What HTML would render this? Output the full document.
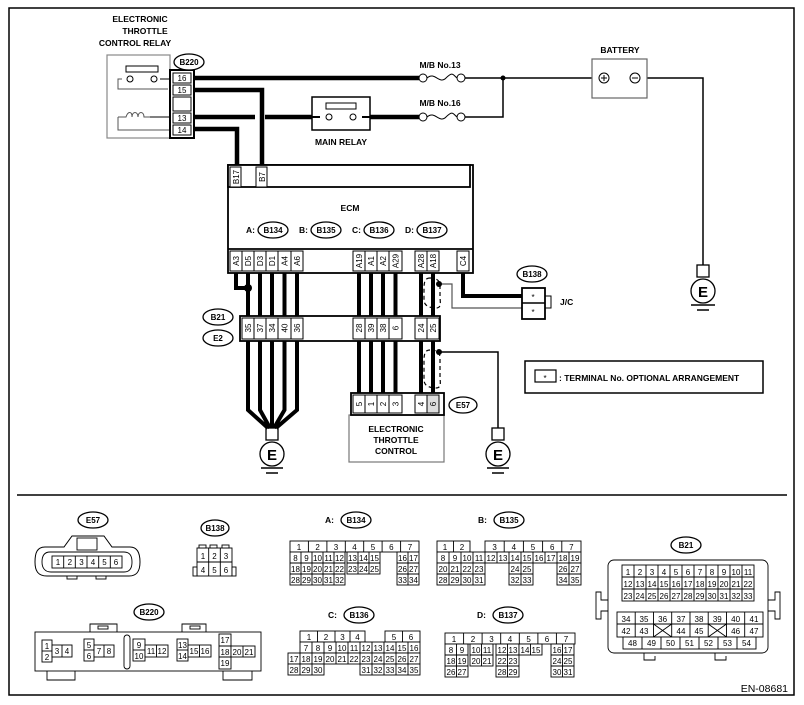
<!DOCTYPE html>
<html><head><meta charset="utf-8"><style>
html,body{margin:0;padding:0;background:#fff}
svg{display:block}
text{font-family:"Liberation Sans",sans-serif;fill:#000}
.b{font-weight:bold;font-size:8.5px}
.t{font-size:8px;text-anchor:middle}
.g{font-size:8px;text-anchor:middle}
</style></head><body>
<svg width="804" height="705" viewBox="0 0 804 705" xmlns="http://www.w3.org/2000/svg">
<rect x="9" y="8" width="785" height="687" fill="none" stroke="#000" stroke-width="1.5"/>
<line x1="17" y1="495" x2="787" y2="495" stroke="#000" stroke-width="1.5"/>

<!-- ETC relay -->
<text class="b" x="140" y="22" text-anchor="middle">ELECTRONIC</text>
<text class="b" x="145" y="34" text-anchor="middle">THROTTLE</text>
<text class="b" x="135" y="46" text-anchor="middle">CONTROL RELAY</text>
<rect x="107" y="55" width="63" height="83" fill="none" stroke="#888" stroke-width="1.2"/>
<rect x="126" y="66" width="32" height="6" fill="none" stroke="#000"/>
<path d="M168 89H134M122 79h-4v10h50" fill="none" stroke="#555"/>
<circle cx="130" cy="79" r="3" fill="#fff" stroke="#000"/><circle cx="154" cy="79" r="3" fill="#fff" stroke="#000"/>
<path d="M160 79H170" stroke="#000"/>
<path d="M118 117h8 c2-6 6-6 6 0 c0-6 6-6 6 0 c0-6 6-6 6 0 h6 M118 117v13h52" fill="none" stroke="#555"/>
<path d="M150 117h20" stroke="#000"/>
<rect x="170" y="70" width="24" height="68" fill="#fff" stroke="#000" stroke-width="2"/>
<rect x="173" y="73" width="18" height="10" fill="#fff" stroke="#000"/><text class="t" x="182" y="81">16</text>
<rect x="173" y="85" width="18" height="10" fill="#fff" stroke="#000"/><text class="t" x="182" y="93">15</text>
<rect x="173" y="97" width="18" height="14" fill="#fff" stroke="#000"/>
<rect x="173" y="113" width="18" height="10" fill="#fff" stroke="#000"/><text class="t" x="182" y="121">13</text>
<rect x="173" y="125" width="18" height="10" fill="#fff" stroke="#000"/><text class="t" x="182" y="133">14</text>
<ellipse cx="189" cy="62" rx="15" ry="8" fill="#fff" stroke="#000" stroke-width="1.3"/><text class="t" x="189" y="65" font-weight="bold">B220</text>

<!-- thick wires -->
<g stroke="#000" stroke-width="4.5" fill="none">
<path d="M194 78H419"/>
<path d="M194 90H262V165"/>
<path d="M194 117H255M265 117H312"/>
<path d="M194 129H237V165"/>
<path d="M370 117H419"/>
</g>
<!-- main relay -->
<rect x="312" y="97" width="58" height="33" fill="#fff" stroke="#000" stroke-width="1.5"/>
<rect x="326" y="103" width="30" height="6" fill="none" stroke="#000"/>
<path d="M312 117h8M362 117h8" stroke="#000" stroke-width="2"/>
<circle cx="329" cy="117" r="3" fill="#fff" stroke="#000"/><circle cx="353" cy="117" r="3" fill="#fff" stroke="#000"/>
<text class="b" x="341" y="145" text-anchor="middle">MAIN RELAY</text>
<!-- fuses -->
<text class="b" x="440" y="68" text-anchor="middle">M/B No.13</text>
<text class="b" x="440" y="106" text-anchor="middle">M/B No.16</text>
<path d="M427 78c8 -7 12 7 19 0s7-3 11 0M427 117c8 -7 12 7 19 0s7-3 11 0" fill="none" stroke="#000"/>
<circle cx="423" cy="78" r="4" fill="#fff" stroke="#000"/><circle cx="461" cy="78" r="4" fill="#fff" stroke="#000"/>
<circle cx="423" cy="117" r="4" fill="#fff" stroke="#000"/><circle cx="461" cy="117" r="4" fill="#fff" stroke="#000"/>
<g stroke="#000" stroke-width="1.5" fill="none">
<path d="M465 78H597M465 117H503V78"/>
<path d="M640 78H703V265"/>
</g>
<circle cx="503" cy="78" r="2.5" fill="#000"/>
<!-- battery -->
<text class="b" x="620" y="53" text-anchor="middle">BATTERY</text>
<rect x="592" y="59" width="55" height="39" fill="#fff" stroke="#666" stroke-width="1.2"/>
<circle cx="604" cy="78" r="5" fill="#fff" stroke="#000"/><path d="M601 78h6M604 75v6" stroke="#000"/>
<circle cx="635" cy="78" r="5" fill="#fff" stroke="#000"/><path d="M632 78h6" stroke="#000"/>

<!-- grounds -->
<g stroke="#000" stroke-width="1.3" fill="#fff">
<rect x="697" y="265" width="12" height="12"/><circle cx="703" cy="291" r="12"/>
<rect x="266" y="428" width="12" height="12"/><circle cx="272" cy="454" r="12"/>
<rect x="492" y="428" width="12" height="12"/><circle cx="498" cy="454" r="12"/>
</g>
<g stroke="#000" stroke-width="1.5">
<path d="M691 305h24M697 310h12M261 468h22M266 473h12M487 468h22M492 473h12"/>
</g>
<text x="703" y="297" text-anchor="middle" font-size="15" font-weight="bold">E</text>
<text x="272" y="460" text-anchor="middle" font-size="15" font-weight="bold">E</text>
<text x="498" y="460" text-anchor="middle" font-size="15" font-weight="bold">E</text>

<!-- ECM -->
<rect x="228" y="165" width="245" height="108" fill="#fff" stroke="#000" stroke-width="1.8"/>
<rect x="228" y="165" width="242" height="22" fill="#fff" stroke="#000" stroke-width="1.8"/>
<rect x="230" y="167" width="11" height="20" fill="#fff" stroke="#000"/><text class="t" transform="translate(236,177) rotate(-90)" dy="3">B17</text>
<rect x="256" y="167" width="11" height="20" fill="#fff" stroke="#000"/><text class="t" transform="translate(262,177) rotate(-90)" dy="3">B7</text>
<text class="b" x="350" y="211" text-anchor="middle">ECM</text>
<text class="b" x="246" y="233">A:</text><ellipse cx="273" cy="230" rx="15" ry="8" fill="#fff" stroke="#000" stroke-width="1.3"/><text class="t" x="273" y="233" font-weight="bold">B134</text>
<text class="b" x="299" y="233">B:</text><ellipse cx="326" cy="230" rx="15" ry="8" fill="#fff" stroke="#000" stroke-width="1.3"/><text class="t" x="326" y="233" font-weight="bold">B135</text>
<text class="b" x="352" y="233">C:</text><ellipse cx="379" cy="230" rx="15" ry="8" fill="#fff" stroke="#000" stroke-width="1.3"/><text class="t" x="379" y="233" font-weight="bold">B136</text>
<text class="b" x="405" y="233">D:</text><ellipse cx="432" cy="230" rx="15" ry="8" fill="#fff" stroke="#000" stroke-width="1.3"/><text class="t" x="432" y="233" font-weight="bold">B137</text>
<line x1="228" y1="249" x2="473" y2="249" stroke="#000" stroke-width="1.8"/>
<g fill="#fff" stroke="#000">
<rect x="230" y="251" width="12" height="20"/><rect x="242" y="251" width="12" height="20"/><rect x="254" y="251" width="12" height="20"/><rect x="266" y="251" width="12" height="20"/><rect x="278" y="251" width="13" height="20"/><rect x="291" y="251" width="12" height="20"/>
<rect x="353" y="251" width="12" height="20"/><rect x="365" y="251" width="12" height="20"/><rect x="377" y="251" width="12" height="20"/><rect x="389" y="251" width="13" height="20"/>
<rect x="415" y="251" width="12" height="20"/><rect x="427" y="251" width="12" height="20"/><rect x="457" y="251" width="12" height="20"/>
</g>
<text class="t" transform="translate(236,261) rotate(-90)" dy="3">A3</text><text class="t" transform="translate(248,261) rotate(-90)" dy="3">D5</text><text class="t" transform="translate(260,261) rotate(-90)" dy="3">D3</text><text class="t" transform="translate(272,261) rotate(-90)" dy="3">D1</text><text class="t" transform="translate(284.5,261) rotate(-90)" dy="3">A4</text><text class="t" transform="translate(297,261) rotate(-90)" dy="3">A6</text>
<text class="t" transform="translate(359,261) rotate(-90)" dy="3">A19</text><text class="t" transform="translate(371,261) rotate(-90)" dy="3">A1</text><text class="t" transform="translate(383,261) rotate(-90)" dy="3">A2</text><text class="t" transform="translate(395.5,261) rotate(-90)" dy="3">A29</text>
<text class="t" transform="translate(421,261) rotate(-90)" dy="3">A28</text><text class="t" transform="translate(433,261) rotate(-90)" dy="3">A18</text><text class="t" transform="translate(463,261) rotate(-90)" dy="3">C4</text>

<!-- wires below ECM -->
<g stroke="#000" stroke-width="4" fill="none">
<path d="M236 273V288H248"/>
<path d="M248 273V316M260 273V316M272 273V316M284.5 273V316M297 273V316"/>
<path d="M359 273V316M371 273V316M383 273V316M395.5 273V316M421 273V316M433 273V316"/>
<path d="M463 273V296H522"/>
<path d="M248 341V410L268 428M260 341V410L270 428M272 341V428M284.5 341V410L274 428M297 341V410L276 428"/>
<path d="M359 341V393M371 341V393M383 341V393M395.5 341V393M421 341V393M433 341V393"/>
</g>
<circle cx="248" cy="288" r="4" fill="#000"/>
<g stroke="#555" stroke-width="1.2" fill="none">
<path d="M440 284H452V308H522"/>
</g>
<g stroke="#000" stroke-width="1.5" fill="none">
<path d="M440 352H498V428"/>
</g>
<circle cx="439" cy="284" r="3" fill="#000"/><circle cx="439" cy="352" r="3" fill="#000"/>
<g stroke="#000" stroke-width="1.2" fill="none" stroke-dasharray="4,3">
<path d="M430 278c-6 0-6 6-6 12v10c0 6 6 8 12 8s4-6 4-12V286c0-6-4-8-10-8z"/>
<path d="M430 350c-6 0-6 6-6 12v18c0 6 6 8 12 8s4-6 4-12V358c0-6-4-8-10-8z"/>
</g>

<!-- B21/E2 block -->
<rect x="240" y="316" width="200" height="25" fill="#fff" stroke="#000" stroke-width="1.8"/>
<g fill="#fff" stroke="#000">
<rect x="242" y="318" width="12" height="21"/><rect x="254" y="318" width="12" height="21"/><rect x="266" y="318" width="12" height="21"/><rect x="278" y="318" width="13" height="21"/><rect x="291" y="318" width="12" height="21"/>
<rect x="353" y="318" width="12" height="21"/><rect x="365" y="318" width="12" height="21"/><rect x="377" y="318" width="12" height="21"/><rect x="389" y="318" width="13" height="21"/>
<rect x="415" y="318" width="12" height="21"/><rect x="427" y="318" width="12" height="21"/>
</g>
<text class="t" transform="translate(248,328) rotate(-90)" dy="3">35</text><text class="t" transform="translate(260,328) rotate(-90)" dy="3">37</text><text class="t" transform="translate(272,328) rotate(-90)" dy="3">34</text><text class="t" transform="translate(284.5,328) rotate(-90)" dy="3">40</text><text class="t" transform="translate(297,328) rotate(-90)" dy="3">36</text>
<text class="t" transform="translate(359,328) rotate(-90)" dy="3">28</text><text class="t" transform="translate(371,328) rotate(-90)" dy="3">39</text><text class="t" transform="translate(383,328) rotate(-90)" dy="3">38</text><text class="t" transform="translate(395.5,328) rotate(-90)" dy="3">6</text>
<text class="t" transform="translate(421,328) rotate(-90)" dy="3">24</text><text class="t" transform="translate(433,328) rotate(-90)" dy="3">25</text>
<ellipse cx="218" cy="317" rx="15" ry="8" fill="#fff" stroke="#000" stroke-width="1.3"/><text class="t" x="218" y="320" font-weight="bold">B21</text>
<ellipse cx="218" cy="338" rx="15" ry="8" fill="#fff" stroke="#000" stroke-width="1.3"/><text class="t" x="218" y="341" font-weight="bold">E2</text>

<!-- ETC -->
<rect x="349" y="415" width="95" height="47" fill="#fff" stroke="#777" stroke-width="1.2"/>
<rect x="351" y="393" width="93" height="22" fill="#fff" stroke="#000" stroke-width="1.8"/>
<g fill="#fff" stroke="#000">
<rect x="353" y="395" width="12" height="18"/><rect x="365" y="395" width="12" height="18"/><rect x="377" y="395" width="12" height="18"/><rect x="389" y="395" width="13" height="18"/>
<rect x="415" y="395" width="12" height="18"/><rect x="427" y="395" width="12" height="18" fill="#ddd"/>
</g>
<text class="t" transform="translate(359,404) rotate(-90)" dy="3">5</text><text class="t" transform="translate(371,404) rotate(-90)" dy="3">1</text><text class="t" transform="translate(383,404) rotate(-90)" dy="3">2</text><text class="t" transform="translate(395.5,404) rotate(-90)" dy="3">3</text><text class="t" transform="translate(421,404) rotate(-90)" dy="3">4</text><text class="t" transform="translate(433,404) rotate(-90)" dy="3">6</text>
<ellipse cx="463" cy="405" rx="14" ry="8" fill="#fff" stroke="#000" stroke-width="1.3"/><text class="t" x="463" y="408" font-weight="bold">E57</text>
<text class="b" x="396" y="432" text-anchor="middle">ELECTRONIC</text>
<text class="b" x="396" y="443" text-anchor="middle">THROTTLE</text>
<text class="b" x="396" y="454" text-anchor="middle">CONTROL</text>

<!-- J/C -->
<ellipse cx="532" cy="274" rx="15" ry="8" fill="#fff" stroke="#000" stroke-width="1.3"/><text class="t" x="532" y="277" font-weight="bold">B138</text>
<rect x="545" y="296" width="6" height="12" fill="#fff" stroke="#000"/>
<rect x="522" y="288" width="23" height="31" fill="#fff" stroke="#000" stroke-width="1.8"/>
<line x1="522" y1="303" x2="545" y2="303" stroke="#000" stroke-width="1.5"/>
<text class="t" x="533" y="300" font-size="10">*</text><text class="t" x="533" y="315" font-size="10">*</text>
<text class="b" x="560" y="305">J/C</text>

<!-- legend -->
<rect x="525" y="361" width="238" height="32" fill="#fff" stroke="#000" stroke-width="1.5"/>
<rect x="535" y="370" width="21" height="12" fill="#fff" stroke="#000" stroke-width="1.2"/>
<text class="t" x="545" y="381" font-size="10">*</text>
<text class="b" x="559" y="381">: TERMINAL No. OPTIONAL ARRANGEMENT</text>

<!-- ========== bottom connectors ========== -->
<g stroke="#000" stroke-width="0.9" fill="#fff">
<path d="M45 547c-8 0-10 6-10 15s3 14 12 14h82c8 0 11-5 11-14s-3-15-10-15h-18l-8-11h-32l-8 11z" stroke-width="1"/>
<path d="M50 552c-6 0-8 4-8 10s3 10 9 10h73c6 0 8-4 8-10s-2-10-8-10z"/>
<rect x="77" y="538" width="20" height="12"/>
<rect x="52" y="556" width="70" height="12"/>
<path d="M63.7 556v12M75.3 556v12M87 556v12M98.7 556v12M110.3 556v12"/>
<rect x="67" y="576" width="10" height="3"/><rect x="96" y="576" width="10" height="3"/>
<rect x="197" y="548" width="35" height="28"/>
<path d="M197 562h35M208.7 548v28M220.3 548v28"/>
<rect x="199" y="545" width="7" height="3"/><rect x="210" y="545" width="7" height="3"/><rect x="222" y="545" width="7" height="3"/>
<rect x="193" y="567" width="4" height="9"/><rect x="232" y="567" width="4" height="9"/>
</g>
<ellipse cx="93" cy="520" rx="15" ry="8" fill="#fff" stroke="#000" stroke-width="1.3"/><text class="t" x="93" y="523" font-weight="bold">E57</text>
<text class="g" x="58" y="565">1</text><text class="g" x="69.8" y="565">2</text><text class="g" x="81.5" y="565">3</text><text class="g" x="93" y="565">4</text><text class="g" x="104.5" y="565">5</text><text class="g" x="116" y="565">6</text>
<ellipse cx="215" cy="528" rx="14" ry="8" fill="#fff" stroke="#000" stroke-width="1.3"/><text class="t" x="215" y="531" font-weight="bold">B138</text>
<text class="g" x="203" y="559">1</text><text class="g" x="214.5" y="559">2</text><text class="g" x="226" y="559">3</text>
<text class="g" x="203" y="573">4</text><text class="g" x="214.5" y="573">5</text><text class="g" x="226" y="573">6</text>

<!-- B134 -->
<text class="b" x="325" y="523">A:</text><ellipse cx="356" cy="520" rx="15" ry="8" fill="#fff" stroke="#000" stroke-width="1.3"/><text class="t" x="356" y="523" font-weight="bold">B134</text>
<g stroke="#000" stroke-width="0.9" fill="#fff">
<rect x="290" y="541" width="129" height="11"/><path d="M308.4 541v11M326.9 541v11M345.3 541v11M363.7 541v11M382.1 541v11M400.6 541v11"/>
<rect x="290" y="552" width="55" height="33"/><path d="M290 563h55M290 574h55M301 552v33M312 552v33M323 552v33M334 552v33"/>
<rect x="347" y="552" width="33" height="22"/><path d="M347 563h33M358 552v22M369 552v22"/>
<rect x="397" y="552" width="22" height="33"/><path d="M397 563h22M397 574h22M408 552v33"/>
</g>
<text class="g" x="299" y="550">1</text><text class="g" x="317.6" y="550">2</text><text class="g" x="336" y="550">3</text><text class="g" x="354.5" y="550">4</text><text class="g" x="373" y="550">5</text><text class="g" x="391.4" y="550">6</text><text class="g" x="410" y="550">7</text>
<text class="g" x="295.5" y="561">8</text><text class="g" x="306.5" y="561">9</text><text class="g" x="317.5" y="561">10</text><text class="g" x="328.5" y="561">11</text><text class="g" x="339.5" y="561">12</text><text class="g" x="352.5" y="561">13</text><text class="g" x="363.5" y="561">14</text><text class="g" x="374.5" y="561">15</text><text class="g" x="402.5" y="561">16</text><text class="g" x="413.5" y="561">17</text>
<text class="g" x="295.5" y="572">18</text><text class="g" x="306.5" y="572">19</text><text class="g" x="317.5" y="572">20</text><text class="g" x="328.5" y="572">21</text><text class="g" x="339.5" y="572">22</text><text class="g" x="352.5" y="572">23</text><text class="g" x="363.5" y="572">24</text><text class="g" x="374.5" y="572">25</text><text class="g" x="402.5" y="572">26</text><text class="g" x="413.5" y="572">27</text>
<text class="g" x="295.5" y="583">28</text><text class="g" x="306.5" y="583">29</text><text class="g" x="317.5" y="583">30</text><text class="g" x="328.5" y="583">31</text><text class="g" x="339.5" y="583">32</text><text class="g" x="402.5" y="583">33</text><text class="g" x="413.5" y="583">34</text>

<!-- B135 -->
<text class="b" x="478" y="523">B:</text><ellipse cx="509" cy="520" rx="15" ry="8" fill="#fff" stroke="#000" stroke-width="1.3"/><text class="t" x="509" y="523" font-weight="bold">B135</text>
<g stroke="#000" stroke-width="0.9" fill="#fff">
<rect x="437" y="541" width="33" height="11"/><path d="M453.5 541v11"/>
<rect x="485" y="541" width="96" height="11"/><path d="M504.2 541v11M523.4 541v11M542.6 541v11M561.8 541v11"/>
<rect x="437" y="552" width="144" height="11"/><path d="M449 552v11M461 552v11M473 552v11M485 552v11M497 552v11M509 552v11M521 552v11M533 552v11M545 552v11M557 552v11M569 552v11"/>
<rect x="437" y="563" width="48" height="22"/><path d="M437 574h48M449 563v22M461 563v22M473 563v22"/>
<rect x="509" y="563" width="24" height="22"/><path d="M509 574h24M521 563v22"/>
<rect x="557" y="563" width="24" height="22"/><path d="M557 574h24M569 563v22"/>
</g>
<text class="g" x="445" y="550">1</text><text class="g" x="462" y="550">2</text><text class="g" x="494.6" y="550">3</text><text class="g" x="513.8" y="550">4</text><text class="g" x="533" y="550">5</text><text class="g" x="552.2" y="550">6</text><text class="g" x="571.4" y="550">7</text>
<text class="g" x="443" y="561">8</text><text class="g" x="455" y="561">9</text><text class="g" x="467" y="561">10</text><text class="g" x="479" y="561">11</text><text class="g" x="491" y="561">12</text><text class="g" x="503" y="561">13</text><text class="g" x="515" y="561">14</text><text class="g" x="527" y="561">15</text><text class="g" x="539" y="561">16</text><text class="g" x="551" y="561">17</text><text class="g" x="563" y="561">18</text><text class="g" x="575" y="561">19</text>
<text class="g" x="443" y="572">20</text><text class="g" x="455" y="572">21</text><text class="g" x="467" y="572">22</text><text class="g" x="479" y="572">23</text><text class="g" x="515" y="572">24</text><text class="g" x="527" y="572">25</text><text class="g" x="563" y="572">26</text><text class="g" x="575" y="572">27</text>
<text class="g" x="443" y="583">28</text><text class="g" x="455" y="583">29</text><text class="g" x="467" y="583">30</text><text class="g" x="479" y="583">31</text><text class="g" x="515" y="583">32</text><text class="g" x="527" y="583">33</text><text class="g" x="563" y="583">34</text><text class="g" x="575" y="583">35</text>

<!-- B136 -->
<text class="b" x="328" y="618">C:</text><ellipse cx="359" cy="615" rx="15" ry="8" fill="#fff" stroke="#000" stroke-width="1.3"/><text class="t" x="359" y="618" font-weight="bold">B136</text>
<g stroke="#000" stroke-width="0.9" fill="#fff">
<rect x="300" y="631" width="65" height="11"/><path d="M317.5 631v11M335 631v11M350 631v11"/>
<rect x="385" y="631" width="35" height="11"/><path d="M402.5 631v11"/>
<rect x="300" y="642" width="120" height="11"/><path d="M312 642v11M324 642v11M336 642v11M348 642v11M360 642v11M372 642v11M384 642v11M396 642v11M408 642v11"/>
<rect x="288" y="653" width="132" height="11"/><path d="M300 653v11M312 653v11M324 653v11M336 653v11M348 653v11M360 653v11M372 653v11M384 653v11M396 653v11M408 653v11"/>
<rect x="288" y="664" width="36" height="11"/><path d="M300 664v11M312 664v11"/>
<rect x="360" y="664" width="60" height="11"/><path d="M372 664v11M384 664v11M396 664v11M408 664v11"/>
</g>
<text class="g" x="309" y="640">1</text><text class="g" x="326" y="640">2</text><text class="g" x="342.5" y="640">3</text><text class="g" x="357.5" y="640">4</text><text class="g" x="394" y="640">5</text><text class="g" x="411" y="640">6</text>
<text class="g" x="306" y="651">7</text><text class="g" x="318" y="651">8</text><text class="g" x="330" y="651">9</text><text class="g" x="342" y="651">10</text><text class="g" x="354" y="651">11</text><text class="g" x="366" y="651">12</text><text class="g" x="378" y="651">13</text><text class="g" x="390" y="651">14</text><text class="g" x="402" y="651">15</text><text class="g" x="414" y="651">16</text>
<text class="g" x="294" y="662">17</text><text class="g" x="306" y="662">18</text><text class="g" x="318" y="662">19</text><text class="g" x="330" y="662">20</text><text class="g" x="342" y="662">21</text><text class="g" x="354" y="662">22</text><text class="g" x="366" y="662">23</text><text class="g" x="378" y="662">24</text><text class="g" x="390" y="662">25</text><text class="g" x="402" y="662">26</text><text class="g" x="414" y="662">27</text>
<text class="g" x="294" y="673">28</text><text class="g" x="306" y="673">29</text><text class="g" x="318" y="673">30</text><text class="g" x="366" y="673">31</text><text class="g" x="378" y="673">32</text><text class="g" x="390" y="673">33</text><text class="g" x="402" y="673">34</text><text class="g" x="414" y="673">35</text>

<!-- B137 -->
<text class="b" x="477" y="618">D:</text><ellipse cx="508" cy="615" rx="15" ry="8" fill="#fff" stroke="#000" stroke-width="1.3"/><text class="t" x="508" y="618" font-weight="bold">B137</text>
<g stroke="#000" stroke-width="0.9" fill="#fff">
<rect x="445" y="633" width="130" height="11"/><path d="M463.6 633v11M482.1 633v11M500.7 633v11M519.3 633v11M537.9 633v11M556.4 633v11"/>
<rect x="445" y="644" width="23" height="33"/><path d="M445 655h23M445 666h23M456.5 644v33"/>
<rect x="470" y="644" width="23" height="22"/><path d="M470 655h23M481.5 644v22"/>
<rect x="496" y="644" width="23" height="33"/><path d="M496 655h23M496 666h23M507.5 644v33"/>
<rect x="519" y="644" width="23" height="11"/><path d="M530.5 644v11"/>
<rect x="551" y="644" width="23" height="33"/><path d="M551 655h23M551 666h23M562.5 644v33"/>
</g>
<text class="g" x="454" y="642">1</text><text class="g" x="473" y="642">2</text><text class="g" x="491.5" y="642">3</text><text class="g" x="510" y="642">4</text><text class="g" x="528.6" y="642">5</text><text class="g" x="547" y="642">6</text><text class="g" x="566" y="642">7</text>
<text class="g" x="451" y="653">8</text><text class="g" x="462" y="653">9</text><text class="g" x="476" y="653">10</text><text class="g" x="487" y="653">11</text><text class="g" x="502" y="653">12</text><text class="g" x="513" y="653">13</text><text class="g" x="525" y="653">14</text><text class="g" x="536" y="653">15</text><text class="g" x="557" y="653">16</text><text class="g" x="568" y="653">17</text>
<text class="g" x="451" y="664">18</text><text class="g" x="462" y="664">19</text><text class="g" x="476" y="664">20</text><text class="g" x="487" y="664">21</text><text class="g" x="502" y="664">22</text><text class="g" x="513" y="664">23</text><text class="g" x="557" y="664">24</text><text class="g" x="568" y="664">25</text>
<text class="g" x="451" y="675">26</text><text class="g" x="462" y="675">27</text><text class="g" x="502" y="675">28</text><text class="g" x="513" y="675">29</text><text class="g" x="557" y="675">30</text><text class="g" x="568" y="675">31</text>

<!-- B220 -->
<ellipse cx="149" cy="612" rx="15" ry="8" fill="#fff" stroke="#000" stroke-width="1.3"/><text class="t" x="149" y="615" font-weight="bold">B220</text>
<g stroke="#000" stroke-width="0.9" fill="#fff">
<path d="M90 632v-8h27v8M182 632v-8h24v8M47 671v9h28v-9M223 671v9h29v-9" fill="none"/>
<rect x="98" y="626" width="10" height="3"/><rect x="190" y="626" width="10" height="3"/>
<rect x="35" y="632" width="226" height="39"/>
<rect x="124" y="635" width="6" height="34" rx="3"/>
<rect x="42" y="640" width="10" height="22"/><path d="M42 651h10"/><rect x="52" y="645" width="20" height="12"/><path d="M62 645v12"/>
<rect x="84" y="639" width="10" height="22"/><path d="M84 650h10"/><rect x="94" y="645" width="20" height="12"/><path d="M104 645v12"/>
<rect x="133" y="639" width="12" height="22"/><path d="M133 650h12"/><rect x="145" y="645" width="23" height="12"/><path d="M156.5 645v12"/>
<rect x="177" y="639" width="11" height="22"/><path d="M177 650h11"/><rect x="188" y="645" width="23" height="12"/><path d="M199.5 645v12"/>
<rect x="219" y="634" width="12" height="35"/><path d="M219 646h12M219 657h12"/><rect x="231" y="646" width="24" height="11"/><path d="M243 646v11"/>
</g>
<text class="g" x="47" y="649">1</text><text class="g" x="47" y="660">2</text><text class="g" x="57" y="654">3</text><text class="g" x="67" y="654">4</text>
<text class="g" x="89" y="648">5</text><text class="g" x="89" y="659">6</text><text class="g" x="99" y="654">7</text><text class="g" x="109" y="654">8</text>
<text class="g" x="139" y="648">9</text><text class="g" x="139" y="659">10</text><text class="g" x="151" y="654">11</text><text class="g" x="162" y="654">12</text>
<text class="g" x="182.5" y="648">13</text><text class="g" x="182.5" y="659">14</text><text class="g" x="194" y="654">15</text><text class="g" x="205" y="654">16</text>
<text class="g" x="225" y="643">17</text><text class="g" x="225" y="655">18</text><text class="g" x="225" y="666">19</text><text class="g" x="237" y="655">20</text><text class="g" x="249" y="655">21</text>

<!-- B21 -->
<ellipse cx="686" cy="545" rx="15" ry="8" fill="#fff" stroke="#000" stroke-width="1.3"/><text class="t" x="686" y="548" font-weight="bold">B21</text>
<g stroke="#000" stroke-width="0.9" fill="#fff">
<path d="M608 600h-7v-8h-5v27h5v-8h7M768 600h7v-8h5v27h-5v-8h-7" fill="none"/>
<rect x="608" y="560" width="160" height="93" rx="6"/>
<path d="M644 653v7h11v-4M715 653v7h11v-4" fill="none"/>
<rect x="622" y="565" width="132" height="36"/>
<path d="M622 577h132M622 589h132M634 565v36M646 565v36M658 565v36M670 565v36M682 565v36M694 565v36M706 565v36M718 565v36M730 565v36M742 565v36"/>
<rect x="617" y="612" width="146" height="25"/>
<path d="M617 624h146M635.2 612v25M653.5 612v25M671.7 612v25M690 612v25M708.2 612v25M726.5 612v25M744.7 612v25"/>
<path d="M653.5 624l18.2 13M671.7 624l-18.2 13M708.2 624l18.3 13M726.5 624l-18.3 13" fill="none"/>
<rect x="623" y="637" width="133" height="12"/>
<path d="M642 637v12M661 637v12M680 637v12M699 637v12M718 637v12M737 637v12"/>
</g>
<text class="g" x="628" y="575">1</text><text class="g" x="640" y="575">2</text><text class="g" x="652" y="575">3</text><text class="g" x="664" y="575">4</text><text class="g" x="676" y="575">5</text><text class="g" x="688" y="575">6</text><text class="g" x="700" y="575">7</text><text class="g" x="712" y="575">8</text><text class="g" x="724" y="575">9</text><text class="g" x="736" y="575">10</text><text class="g" x="748" y="575">11</text>
<text class="g" x="628" y="587">12</text><text class="g" x="640" y="587">13</text><text class="g" x="652" y="587">14</text><text class="g" x="664" y="587">15</text><text class="g" x="676" y="587">16</text><text class="g" x="688" y="587">17</text><text class="g" x="700" y="587">18</text><text class="g" x="712" y="587">19</text><text class="g" x="724" y="587">20</text><text class="g" x="736" y="587">21</text><text class="g" x="748" y="587">22</text>
<text class="g" x="628" y="599">23</text><text class="g" x="640" y="599">24</text><text class="g" x="652" y="599">25</text><text class="g" x="664" y="599">26</text><text class="g" x="676" y="599">27</text><text class="g" x="688" y="599">28</text><text class="g" x="700" y="599">29</text><text class="g" x="712" y="599">30</text><text class="g" x="724" y="599">31</text><text class="g" x="736" y="599">32</text><text class="g" x="748" y="599">33</text>
<text class="g" x="626" y="622">34</text><text class="g" x="644" y="622">35</text><text class="g" x="662.6" y="622">36</text><text class="g" x="681" y="622">37</text><text class="g" x="699" y="622">38</text><text class="g" x="717.3" y="622">39</text><text class="g" x="735.6" y="622">40</text><text class="g" x="754" y="622">41</text>
<text class="g" x="626" y="634">42</text><text class="g" x="644" y="634">43</text><text class="g" x="681" y="634">44</text><text class="g" x="699" y="634">45</text><text class="g" x="735.6" y="634">46</text><text class="g" x="754" y="634">47</text>
<text class="g" x="632.5" y="646">48</text><text class="g" x="651.5" y="646">49</text><text class="g" x="670.5" y="646">50</text><text class="g" x="689.5" y="646">51</text><text class="g" x="708.5" y="646">52</text><text class="g" x="727.5" y="646">53</text><text class="g" x="746.5" y="646">54</text>
<text x="788" y="692" text-anchor="end" font-size="10.5">EN-08681</text>
</svg>
</body></html>
